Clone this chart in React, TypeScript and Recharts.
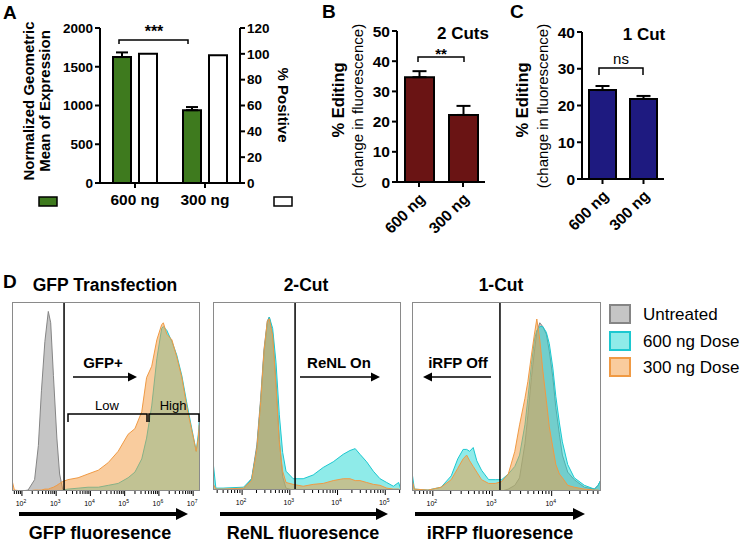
import React from "react";
import { ComposedChart, BarChart, Bar, XAxis, YAxis, ErrorBar, AreaChart, Area, ReferenceLine } from "recharts";

const FONT = "'Liberation Sans', Arial, Helvetica, sans-serif";

// A: expression per dose
const doseLabels = ["600 ng", "300 ng"];
const geoMean = [1625, 940];
const geoMeanErr = [60, 40];
const pctPositive = [100, 99];
const geoTicks = [0, 500, 1000, 1500, 2000];
const posTicks = [0, 20, 40, 60, 80, 100, 120];

// B / C: editing
const twoCutEditing = [34.7, 22.2];
const twoCutErr = [2.0, 3.0];
const twoCutTicks = [0, 10, 20, 30, 40, 50];
const oneCutEditing = [24.2, 21.8];
const oneCutErr = [1.1, 0.8];
const oneCutTicks = [0, 10, 20, 30, 40];

// D: histograms, x = log10 fluorescence, y = % of mode
const gfpLog = [1.72, 1.78, 2.0, 2.18, 2.37, 2.48, 2.57, 2.67, 2.77, 2.84, 2.92, 3.02, 3.1, 3.19, 3.34, 3.64, 3.93, 4.23, 4.52, 4.81, 5.1, 5.3, 5.5, 5.64, 5.79, 5.94, 6.08, 6.13, 6.23, 6.38, 6.52, 6.67, 6.82, 6.96, 7.09, 7.15, 7.18, 7.2];
const gfpUntreated = [0, 0, 0, 0.5, 6, 24, 53, 79, 95, 89, 61, 28, 9, 1, 0, 0, 0, 0, 0, 0, 0, 0, 0, 0, 0, 0, 0, 0, 0, 0, 0, 0, 0, 0, 0, 0, 0, 0];
const gfp600 = [0, 0, 0, 0, 0, 0, 0, 0, 0, 0, 0, 0, 0, 0.5, 1, 1.5, 2, 2, 3, 4, 7, 10, 17, 28, 45, 70, 86, 87, 85, 79, 72, 61, 46, 33, 21, 30, 37, 0];
const gfp300 = [5, 0.5, 0, 0, 0.5, 0.5, 0.5, 1, 1, 1.5, 2, 3, 4, 5, 6, 7, 9, 11, 15, 21, 30, 33, 42, 60, 66, 80, 88, 89, 83, 80, 71, 60, 44, 32, 21, 28, 35, 0];

const renlLog = [1.4, 1.45, 1.6, 2.03, 2.2, 2.31, 2.39, 2.46, 2.53, 2.57, 2.64, 2.71, 2.78, 2.85, 2.92, 3.07, 3.28, 3.49, 3.7, 3.91, 4.12, 4.26, 4.37, 4.47, 4.61, 4.75, 4.89, 5.03, 5.17, 5.28, 5.33];
const renlUntreated = [0, 0, 0, 0.5, 6, 24, 49, 75, 90, 92, 83, 58, 27, 7, 1, 0, 0, 0, 0, 0, 0, 0, 0, 0, 0, 0, 0, 0, 0, 0, 0];
const renl600 = [13, 1, 1, 1.5, 6, 22, 47, 73, 89, 92, 86, 68, 40, 20, 10, 6, 6, 8, 12, 15, 19, 21, 22, 19, 15, 10, 6, 4, 2, 4, 0];
const renl300 = [3, 0.5, 0.5, 1, 5, 22, 47, 74, 90, 91, 82, 55, 25, 10, 4, 3, 2, 3, 3.5, 5, 6, 6, 5, 5, 4, 3, 2.5, 1, 0.5, 0.5, 0];

const irfpLog = [1.65, 1.69, 1.92, 2.14, 2.31, 2.42, 2.51, 2.57, 2.62, 2.68, 2.74, 2.82, 2.94, 3.05, 3.16, 3.27, 3.38, 3.46, 3.55, 3.6, 3.66, 3.71, 3.75, 3.8, 3.85, 3.91, 3.96, 4.02, 4.07, 4.13, 4.18, 4.27, 4.38, 4.55, 4.72, 4.78, 4.83];
const irfpUntreated = [0, 0, 0, 0, 0, 0, 0, 0, 0, 0, 0, 0, 0, 0, 0, 1, 3, 7, 25, 40, 60, 74, 84, 89, 87, 83, 74, 60, 44, 30, 19, 10, 6, 2, 1, 3, 6];
const irfp600 = [10, 1, 0.5, 2, 8, 17, 22, 22, 21, 23, 16, 11, 6, 6, 6, 9, 13, 19, 35, 49, 67, 80, 85, 87, 87, 84, 78, 65, 50, 36, 26, 14, 7, 3, 1, 3, 6];
const irfp300 = [6, 1, 0.5, 2, 6, 12, 17, 19, 16, 13, 10, 6, 4, 4, 5, 9, 21, 35, 49, 58, 72, 83, 91, 80, 64, 48, 34, 23, 14, 9, 7, 3, 2, 1, 0.5, 0.5, 0];

const legendItems = ["Untreated", "600 ng Dose", "300 ng Dose"];

const aRows = doseLabels.map((dose, i) => ({ dose, mean: geoMean[i], err: [0, geoMeanErr[i]], pos: pctPositive[i] }));
const bRows = doseLabels.map((dose, i) => ({ dose, v: twoCutEditing[i], err: [0, twoCutErr[i]] }));
const cRows = doseLabels.map((dose, i) => ({ dose, v: oneCutEditing[i], err: [0, oneCutErr[i]] }));
const histRows = (xs: number[], u: number[], a: number[], b: number[]) =>
  xs.map((x, i) => ({ x, untreated: u[i], d600: a[i], d300: b[i] }));

const axisLine = { stroke: "#000", strokeWidth: 2 };
const numTick = { fontSize: 13.5, fontWeight: 700, fill: "#000", fontFamily: FONT };
const bigTick = { fontSize: 15.5, fontWeight: 700, fill: "#000", fontFamily: FONT };

const COLORS = {
  untreated: { stroke: "#858585", fill: "#8c8c8c" },
  d600: { stroke: "#1cc8d0", fill: "#1fd8d4" },
  d300: { stroke: "#f09a44", fill: "#f39a3e" },
};

function logTicks([lo, hi]: number[]) {
  const out: number[] = [];
  for (let d = Math.floor(lo); d <= Math.ceil(hi); d++) {
    for (let m = 1; m < 10; m++) {
      const t = d + Math.log10(m);
      if (t >= lo && t <= hi) out.push(t);
    }
  }
  return out;
}

const LogTick = (props: any) => {
  const { x, y, payload } = props;
  const v = payload.value;
  const major = Math.abs(v - Math.round(v)) < 1e-6;
  return (
    <g>
      <line x1={x} x2={x} y1={y} y2={y + (major ? 5 : 3)} stroke="#000" strokeWidth={1} />
      {major && (
        <text x={x - 1} y={y + 15} textAnchor="middle" fontSize={7} fontFamily={FONT} fill="#000">
          10<tspan dy={-3} fontSize={5}>{Math.round(v)}</tspan>
        </text>
      )}
    </g>
  );
};

const RotTick = (props: any) => {
  const { x, y, payload } = props;
  const ax = x + 3;
  const ay = y + 7;
  return (
    <text x={ax} y={ay} transform={`rotate(-45 ${ax} ${ay})`} textAnchor="end" dominantBaseline="central"
      fontSize={15.5} fontWeight={700} fontFamily={FONT} fill="#000">
      {payload.value}
    </text>
  );
};

function Histogram({ left, top, width, height, rows, domain, gate }: any) {
  return (
    <div style={{ position: "absolute", left, top, width, height: height + 22 }}>
      <AreaChart width={width} height={height + 22} data={rows} margin={{ top: 0, right: 0, bottom: 0, left: 0 }}>
        <XAxis dataKey="x" type="number" domain={domain} allowDataOverflow ticks={logTicks(domain)} interval={0}
          tick={LogTick} tickLine={false} axisLine={false} tickSize={0} tickMargin={0} height={22} />
        <YAxis hide domain={[0, 100]} allowDataOverflow />
        {(["untreated", "d600", "d300"] as const).map((k) => (
          <Area key={k} type="linear" dataKey={k} stroke={COLORS[k].stroke} strokeWidth={1} fill={COLORS[k].fill}
            fillOpacity={0.5} dot={false} activeDot={false} isAnimationActive={false} />
        ))}
        <ReferenceLine x={gate} stroke="#000" strokeWidth={1.5} />
      </AreaChart>
      <div style={{ position: "absolute", left: 0, top: 0, width, height, border: "1px solid #8a8a8a", boxSizing: "border-box" }} />
    </div>
  );
}

function Arrow({ x1, x2, y, w, head }: any) {
  const dir = x2 > x1 ? 1 : -1;
  const hx = x2 - dir * head;
  return (
    <g>
      <line x1={x1} x2={hx} y1={y} y2={y} stroke="#000" strokeWidth={w} />
      <polygon points={`${x2},${y} ${hx},${y - head * 0.5} ${hx},${y + head * 0.5}`} fill="#000" />
    </g>
  );
}

const bold = { fontFamily: FONT, fontWeight: 700, fill: "#000" } as const;
const plain = { fontFamily: FONT, fill: "#000" } as const;

export default function App() {
  return (
    <div style={{ position: "fixed", left: 0, top: 0, width: 747, height: 544, background: "#fff", overflow: "hidden" }}>
      {/* A */}
      <div style={{ position: "absolute", left: 60, top: 18 }}>
        <ComposedChart width={215} height={195} data={aRows} margin={{ top: 10, right: 0, bottom: 0, left: 0 }} barCategoryGap={13} barGap={8}>
          <XAxis dataKey="dose" height={30} axisLine={axisLine} tickLine={axisLine} tickSize={5} tickMargin={6} tick={bigTick} />
          <YAxis yAxisId="l" width={40} domain={[0, 2000]} ticks={geoTicks} interval={0} axisLine={axisLine} tickLine={axisLine} tickSize={5} tickMargin={2} tick={numTick} />
          <YAxis yAxisId="r" orientation="right" width={35} domain={[0, 120]} ticks={posTicks} interval={0} axisLine={axisLine} tickLine={axisLine} tickSize={5} tickMargin={2} tick={numTick} />
          <Bar yAxisId="l" dataKey="mean" fill="#3e7a1e" stroke="#000" strokeWidth={2} isAnimationActive={false}>
            <ErrorBar dataKey="err" width={6} stroke="#000" strokeWidth={2} isAnimationActive={false} />
          </Bar>
          <Bar yAxisId="r" dataKey="pos" fill="#fff" stroke="#000" strokeWidth={2} isAnimationActive={false} />
        </ComposedChart>
      </div>

      {/* B */}
      <div style={{ position: "absolute", left: 367, top: 21 }}>
        <BarChart width={118} height={221} data={bRows} margin={{ top: 10, right: 0, bottom: 0, left: 0 }} barSize={29}>
          <XAxis dataKey="dose" height={60} axisLine={axisLine} tickLine={axisLine} tickSize={5} tickMargin={2} tick={RotTick} interval={0} />
          <YAxis width={30} domain={[0, 50]} ticks={twoCutTicks} interval={0} axisLine={axisLine} tickLine={axisLine} tickSize={5} tickMargin={2} tick={bigTick} />
          <Bar dataKey="v" fill="#6a1414" stroke="#000" strokeWidth={2} isAnimationActive={false}>
            <ErrorBar dataKey="err" width={7} stroke="#000" strokeWidth={2} isAnimationActive={false} />
          </Bar>
        </BarChart>
      </div>

      {/* C */}
      <div style={{ position: "absolute", left: 552, top: 22 }}>
        <BarChart width={112} height={217} data={cRows} margin={{ top: 10, right: 0, bottom: 0, left: 0 }} barSize={27}>
          <XAxis dataKey="dose" height={60} axisLine={axisLine} tickLine={axisLine} tickSize={5} tickMargin={2} tick={RotTick} interval={0} />
          <YAxis width={30} domain={[0, 40]} ticks={oneCutTicks} interval={0} axisLine={axisLine} tickLine={axisLine} tickSize={5} tickMargin={2} tick={bigTick} />
          <Bar dataKey="v" fill="#1e1a80" stroke="#000" strokeWidth={2} isAnimationActive={false}>
            <ErrorBar dataKey="err" width={7} stroke="#000" strokeWidth={2} isAnimationActive={false} />
          </Bar>
        </BarChart>
      </div>

      {/* D */}
      <Histogram left={12} top={302} width={188} height={189} domain={[1.71, 7.2]} gate={3.23}
        rows={histRows(gfpLog, gfpUntreated, gfp600, gfp300)} />
      <Histogram left={213} top={302} width={188} height={188} domain={[1.39, 5.33]} gate={3.11}
        rows={histRows(renlLog, renlUntreated, renl600, renl300)} />
      <Histogram left={412} top={302} width={189} height={189} domain={[1.65, 4.83]} gate={3.13}
        rows={histRows(irfpLog, irfpUntreated, irfp600, irfp300)} />

      <svg width={747} height={544} style={{ position: "absolute", left: 0, top: 0, pointerEvents: "none" }}>
        {/* panel letters */}
        <text x={3} y={19} fontSize={19} {...bold}>A</text>
        <text x={322} y={18} fontSize={19} {...bold}>B</text>
        <text x={510} y={18} fontSize={19} {...bold}>C</text>
        <text x={3} y={288} fontSize={19} {...bold}>D</text>

        {/* A annotations */}
        <text transform="translate(28,101) rotate(-90)" textAnchor="middle" dominantBaseline="central" fontSize={15} {...bold}>Normalized Geometric</text>
        <text transform="translate(44,101) rotate(-90)" textAnchor="middle" dominantBaseline="central" fontSize={15} {...bold}>Mean of Expression</text>
        <text transform="translate(283,105) rotate(90)" textAnchor="middle" dominantBaseline="central" fontSize={15} {...bold}>% Positive</text>
        <path d="M119,44 V40 H188 V44" fill="none" stroke="#000" strokeWidth={1.5} />
        <text x={154} y={37} textAnchor="middle" fontSize={16} {...bold}>***</text>
        <rect x={39} y={197} width={18} height={9} fill="#3e7a1e" stroke="#000" strokeWidth={1.5} />
        <rect x={274} y={197} width={18} height={9} fill="#fff" stroke="#000" strokeWidth={1.5} />

        {/* B annotations */}
        <text transform="translate(338,100) rotate(-90)" textAnchor="middle" dominantBaseline="central" fontSize={16.5} {...bold}>% Editing</text>
        <text transform="translate(357,106) rotate(-90)" textAnchor="middle" dominantBaseline="central" fontSize={15} {...plain}>(change in fluorescence)</text>
        <text x={463} y={39} textAnchor="middle" fontSize={17} {...bold}>2 Cuts</text>
        <path d="M418,62 V57 H464 V62" fill="none" stroke="#000" strokeWidth={1.5} />
        <text x={441} y={59} textAnchor="middle" fontSize={15} {...bold}>**</text>

        {/* C annotations */}
        <text transform="translate(522,100) rotate(-90)" textAnchor="middle" dominantBaseline="central" fontSize={16.5} {...bold}>% Editing</text>
        <text transform="translate(542,106) rotate(-90)" textAnchor="middle" dominantBaseline="central" fontSize={15} {...plain}>(change in fluorescence)</text>
        <text x={644} y={40} textAnchor="middle" fontSize={17} {...bold}>1 Cut</text>
        <path d="M599,75 V68 H643 V75" fill="none" stroke="#000" strokeWidth={1.5} />
        <text x={621} y={64} textAnchor="middle" fontSize={15} {...plain}>ns</text>

        {/* D annotations */}
        <text x={105} y={291} textAnchor="middle" fontSize={17.5} {...bold}>GFP Transfection</text>
        <text x={306} y={291} textAnchor="middle" fontSize={17.5} {...bold}>2-Cut</text>
        <text x={501} y={291} textAnchor="middle" fontSize={17.5} {...bold}>1-Cut</text>

        <text x={103} y={368} textAnchor="middle" fontSize={15} {...bold}>GFP+</text>
        <Arrow x1={73} x2={137} y={377} w={1.5} head={9} />
        <text x={107} y={410} textAnchor="middle" fontSize={13} {...plain}>Low</text>
        <text x={173} y={410} textAnchor="middle" fontSize={13} {...plain}>High</text>
        <path d="M68,422 V414 H147 V422" fill="none" stroke="#000" strokeWidth={1.5} />
        <path d="M149,422 V414 H199 V422" fill="none" stroke="#000" strokeWidth={1.5} />

        <text x={339} y={368} textAnchor="middle" fontSize={15} {...bold}>ReNL On</text>
        <Arrow x1={300} x2={380} y={377} w={1.5} head={9} />
        <text x={458} y={368} textAnchor="middle" fontSize={15} {...bold}>iRFP Off</text>
        <Arrow x1={491} x2={423} y={377} w={1.5} head={9} />

        <Arrow x1={19} x2={188} y={514} w={4} head={12} />
        <Arrow x1={220} x2={388} y={514} w={4} head={12} />
        <Arrow x1={415} x2={585} y={514} w={4} head={12} />
        <text x={100} y={539} textAnchor="middle" fontSize={18} {...bold}>GFP fluoresence</text>
        <text x={303} y={539} textAnchor="middle" fontSize={18} {...bold}>ReNL fluoresence</text>
        <text x={500} y={539} textAnchor="middle" fontSize={18} {...bold}>iRFP fluoresence</text>

        {legendItems.map((name, i) => {
          const k = (["untreated", "d600", "d300"] as const)[i];
          const y = [305, 332, 358][i];
          return (
            <g key={name}>
              <rect x={610} y={y} width={20} height={18} fill={COLORS[k].fill} fillOpacity={0.5} stroke={COLORS[k].stroke} strokeWidth={2} />
              <text x={643} y={y + 15} fontSize={17} {...plain}>{name}</text>
            </g>
          );
        })}
      </svg>
    </div>
  );
}
